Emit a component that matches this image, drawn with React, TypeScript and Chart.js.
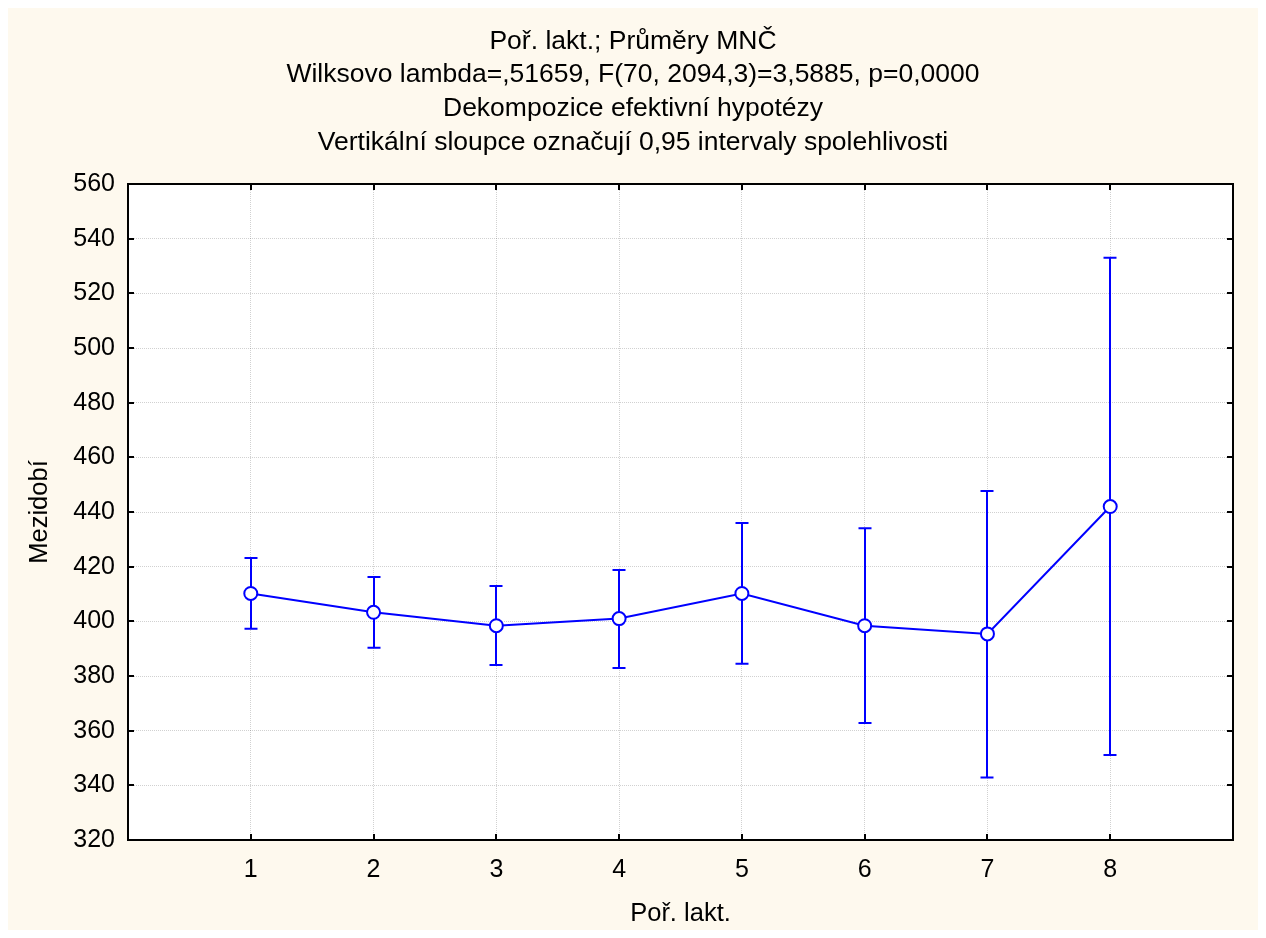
import React, { useEffect, useRef } from "react";
import { Chart, registerables } from "chart.js";

Chart.register(...registerables);

const titleLines = [
  "Poř. lakt.; Průměry MNČ",
  "Wilksovo lambda=,51659, F(70, 2094,3)=3,5885, p=0,0000",
  "Dekompozice efektivní hypotézy",
  "Vertikální sloupce označují 0,95 intervaly spolehlivosti",
];
const xAxisTitle = "Poř. lakt.";
const yAxisTitle = "Mezidobí";

const categories = [1, 2, 3, 4, 5, 6, 7, 8];
const means = [410.2, 403.3, 398.4, 401.0, 410.2, 398.4, 395.4, 442.0];
const upper = [423.2, 416.2, 412.9, 418.8, 436.0, 434.1, 447.7, 533.0];
const lower = [397.3, 390.3, 384.0, 382.9, 384.5, 362.8, 342.9, 351.1];

const yMin = 320;
const yMax = 560;
const yStep = 20;
const xMin = 0;
const xMax = 9;

const FONT = "'Liberation Sans', Arial, sans-serif";
const BLUE = "#0000FF";
const CREAM = "#FEF9EE";

export default function App() {
  const ref = useRef<HTMLCanvasElement | null>(null);

  useEffect(() => {
    const canvas = ref.current;
    if (!canvas) return;

    const decorPlugin = {
      id: "decor",
      beforeDraw(chart: any) {
        const { ctx, chartArea: a, width, height } = chart;
        ctx.save();
        ctx.fillStyle = CREAM;
        ctx.fillRect(0, 0, width, height);
        ctx.fillStyle = "#FFFFFF";
        ctx.fillRect(a.left, a.top, a.right - a.left, a.bottom - a.top);
        ctx.restore();
      },
      beforeDatasetsDraw(chart: any) {
        const { ctx } = chart;
        const xs = chart.scales.x;
        const ys = chart.scales.y;
        ctx.save();
        ctx.strokeStyle = BLUE;
        ctx.lineWidth = 2;
        const cap = 6.5;
        categories.forEach((c, i) => {
          const px = Math.round(xs.getPixelForValue(c));
          const pu = ys.getPixelForValue(upper[i]);
          const pl = ys.getPixelForValue(lower[i]);
          ctx.beginPath();
          ctx.moveTo(px, pu);
          ctx.lineTo(px, pl);
          ctx.moveTo(px - cap, pu);
          ctx.lineTo(px + cap, pu);
          ctx.moveTo(px - cap, pl);
          ctx.lineTo(px + cap, pl);
          ctx.stroke();
        });
        ctx.restore();
      },
      afterDraw(chart: any) {
        const { ctx, chartArea: a, width } = chart;
        const xs = chart.scales.x;
        const ys = chart.scales.y;
        ctx.save();
        ctx.strokeStyle = "#000000";
        ctx.lineWidth = 2;
        ctx.strokeRect(a.left, a.top, a.right - a.left, a.bottom - a.top);
        const tl = 6;
        ctx.beginPath();
        for (let v = yMin + yStep; v < yMax; v += yStep) {
          const py = Math.round(ys.getPixelForValue(v));
          ctx.moveTo(a.left, py);
          ctx.lineTo(a.left + tl, py);
          ctx.moveTo(a.right, py);
          ctx.lineTo(a.right - tl, py);
        }
        categories.forEach((c) => {
          const px = Math.round(xs.getPixelForValue(c));
          ctx.moveTo(px, a.bottom);
          ctx.lineTo(px, a.bottom - tl);
          ctx.moveTo(px, a.top);
          ctx.lineTo(px, a.top + tl);
        });
        ctx.stroke();
        ctx.fillStyle = "#000000";
        ctx.textAlign = "center";
        ctx.textBaseline = "middle";
        ctx.font = `26.5px ${FONT}`;
        const tops = [34, 67, 101, 135];
        titleLines.forEach((t, i) => ctx.fillText(t, width / 2, tops[i]));
        ctx.font = `25.5px ${FONT}`;
        ctx.fillText(xAxisTitle, (a.left + a.right) / 2, 906);
        ctx.translate(32, (a.top + a.bottom) / 2);
        ctx.rotate(-Math.PI / 2);
        ctx.fillText(yAxisTitle, 0, 0);
        ctx.restore();
      },
    };

    const chart = new Chart(canvas, {
      type: "line",
      data: {
        datasets: [
          {
            data: categories.map((c, i) => ({ x: c, y: means[i] })),
            borderColor: BLUE,
            borderWidth: 2,
            backgroundColor: "#FFFFFF",
            pointBackgroundColor: "#FFFFFF",
            pointBorderColor: BLUE,
            pointBorderWidth: 2,
            pointRadius: 6.5,
            tension: 0,
            fill: false,
          },
        ],
      },
      options: {
        responsive: false,
        animation: false,
        devicePixelRatio: 1,
        layout: { padding: { left: 0, top: 176, right: 25, bottom: 0 } },
        plugins: {
          legend: { display: false },
          title: { display: false },
          tooltip: { enabled: false },
        },
        scales: {
          x: {
            type: "linear",
            min: xMin,
            max: xMax,
            border: { display: false, dash: [1, 1] },
            grid: {
              color: "rgba(0,0,0,0.18)",
              lineWidth: 1,
              drawTicks: false,
            },
            ticks: {
              stepSize: 1,
              padding: 15,
              color: "#000000",
              font: { family: FONT, size: 25 },
              callback: (v: any) => (v >= 1 && v <= 8 ? String(v) : ""),
            },
            afterFit: (s: any) => {
              s.height = 90;
            },
          },
          y: {
            min: yMin,
            max: yMax,
            border: { display: false, dash: [1, 1] },
            grid: {
              color: "rgba(0,0,0,0.18)",
              lineWidth: 1,
              drawTicks: false,
            },
            ticks: {
              stepSize: yStep,
              padding: 13,
              color: "#000000",
              font: { family: FONT, size: 25 },
            },
            afterFit: (s: any) => {
              s.width = 120;
            },
          },
        },
      },
      plugins: [decorPlugin],
    });

    return () => chart.destroy();
  }, []);

  return (
    <div style={{ width: 1250, height: 922 }}>
      <canvas ref={ref} width={1250} height={922} style={{ display: "block" }} />
    </div>
  );
}
